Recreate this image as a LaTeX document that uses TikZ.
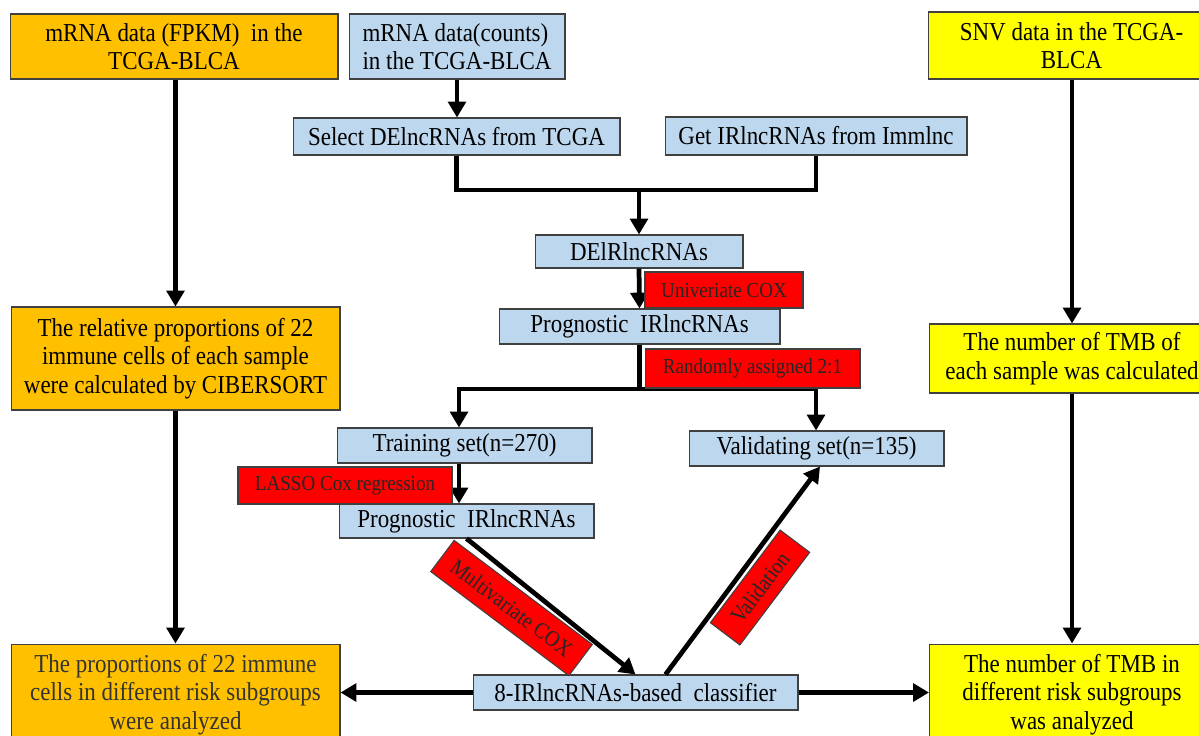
\documentclass[tikz,border=0pt]{standalone}
\usepackage{fontspec}
\setmainfont{Liberation Serif}[FakeStretch=0.89]
\usetikzlibrary{arrows.meta}
\definecolor{fpkmorange}{HTML}{FFC000}
\definecolor{stepblue}{HTML}{BDD7EE}
\definecolor{snvyellow}{HTML}{FFFF00}
\definecolor{coxred}{HTML}{FF0000}
\tikzstyle{b} = [draw=black!75, line width=0.6pt, inner sep=2pt, align=center, font=\fontsize{14.7}{16.2}\selectfont]
\tikzstyle{r} = [draw=black!75, line width=0.6pt, fill=coxred, text=black!85, inner sep=2pt, font=\fontsize{12.2}{14}\selectfont]

\begin{document}
\begin{tikzpicture}[x=0.02cm,y=-0.02cm,
			orange/.style={b,fill=fpkmorange},
			blue/.style={b,fill=stepblue},
			yellow/.style={b,fill=snvyellow},
			tilted/.style={r,font=\fontsize{12.8}{14}\selectfont},
			line/.style={line width=2.7pt},
			arr/.style={line,-{Triangle[length=9pt,width=10pt]}}]
			\useasboundingbox (0,0) rectangle (1199,735);
			\clip (0,0) rectangle (1199,735);
			\node (fpkm) [orange, minimum width=6.56cm, minimum height=1.30cm] at (174,46.5) {mRNA data (FPKM)~~in the\\TCGA-BLCA};
			\node (counts) [blue, align=left, minimum width=4.32cm, minimum height=1.30cm] at (457,46.5) {mRNA data(counts)\\in the TCGA-BLCA};
			\node (snv) [yellow, minimum width=5.74cm, minimum height=1.34cm] at (1071.5,45.5) {SNV data in the TCGA-\\BLCA};
			\node (sel) [blue, minimum width=6.54cm, minimum height=0.74cm] at (456.5,136.5) {Select DElncRNAs from TCGA};
			\node (get) [blue, minimum width=6.04cm, minimum height=0.76cm] at (816,136) {Get IRlncRNAs from Immlnc};
			\node (deir) [blue, minimum width=4.16cm, minimum height=0.66cm] at (639,251.5) {DElRlncRNAs};
			\node (prog) [blue, minimum width=5.62cm, minimum height=0.70cm] at (639.5,326.5) {Prognostic~~IRlncRNAs};
			\node (train) [blue, minimum width=5.10cm, minimum height=0.70cm] at (464.5,445.5) {Training set(n=270)};
			\node (val) [blue, minimum width=5.10cm, minimum height=0.70cm] at (816.5,448.5) {Validating set(n=135)};
			\node (prog2) [blue, minimum width=5.10cm, minimum height=0.68cm] at (466.5,521) {Prognostic~~IRlncRNAs};
			\node (cls) [blue, minimum width=6.50cm, minimum height=0.70cm] at (635.5,692.5) {8-IRlncRNAs-based~~classifier};
			\node (rel) [orange, minimum width=6.58cm, minimum height=2.06cm] at (175.5,358.5) {The relative proportions of 22\\immune cells of each sample\\were calculated by CIBERSORT};
			\node (tmb) [yellow, minimum width=5.72cm, minimum height=1.38cm] at (1072,358.5) {The number of TMB of\\each sample was calculated};
			\node (pbl) [orange, text=black!80, minimum width=6.58cm, minimum height=2.02cm] at (175.5,694.5) {The proportions of 22 immune\\cells in different risk subgroups\\were analyzed};
			\node (tbr) [yellow, minimum width=5.70cm, minimum height=2.02cm] at (1072,694.5) {The number of TMB in\\different risk subgroups\\was analyzed};
			
			\coordinate (join) at (639,190);
			\coordinate (ls) at (459,389);
			\coordinate (rs) at (816,389);
			\draw[arr] (rel.north |- fpkm.south) -- (rel.north);
			\draw[arr] (rel.south) -- (pbl.north);
			\draw[arr] (tmb.north |- snv.south) -- (tmb.north);
			\draw[arr] (tmb.south) -- (tbr.north);
			\draw[arr] (counts.south) -- (counts.south |- sel.north);
			\draw[line] (sel.south) |- (join) -| (get.south);
			\draw[arr] (join) -- (deir.north);
			\draw[arr] (deir.south) -- (prog.north);
			\draw[line] (prog.south) -- (prog.south |- ls);
			\draw[line,{Triangle[length=9pt,width=10pt]}-{Triangle[length=9pt,width=10pt]}] (ls |- train.north) -- (ls) -- (rs) -- (rs |- val.north);
			\draw[arr] (ls |- train.south) -- (ls |- prog2.north);
			\draw[arr] (prog2.south) -- (cls.north);
			\draw[arr] ([xshift=0.6cm]cls.north) -- ([xshift=0.07cm]val.south);
			\draw[arr] (cls.west) -- (cls.west -| pbl.east);
			\draw[arr] (cls.east) -- (cls.east -| tbr.west);
			
			\node (uni) [r, minimum width=3.16cm, minimum height=0.72cm] at (724,290) {Univeriate COX};
			\node (rand) [r, minimum width=4.30cm, minimum height=0.78cm] at (752.5,368.5) {Randomly assigned 2:1};
			\node (lasso) [r, minimum width=4.28cm, minimum height=0.74cm] at (345,485.5) {LASSO Cox regression};
			\node (multi) [tilted, rotate=-37, minimum width=3.46cm, minimum height=0.78cm] at (511.5,608) {Multivariate COX};
			\node (valid) [tilted, rotate=53, minimum width=2.32cm, minimum height=0.74cm] at (760,587.5) {Validation};
		\end{tikzpicture}
\end{document}
